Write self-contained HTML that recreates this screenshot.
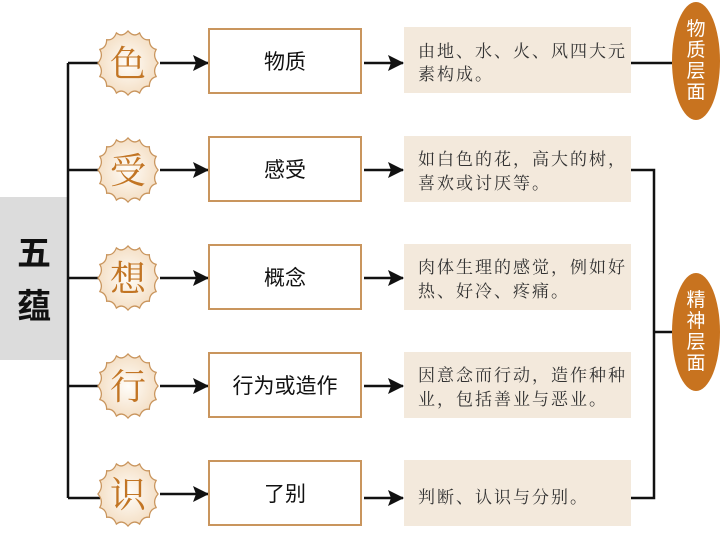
<!DOCTYPE html>
<html><head><meta charset="utf-8"><style>
body{margin:0;background:#fff;width:720px;height:533px;overflow:hidden}
svg text{font-family:"Liberation Sans","Noto Sans CJK SC",sans-serif}
.s{font-family:"Liberation Serif","Noto Serif CJK SC",serif !important}
</style></head><body>
<svg width="720" height="533" viewBox="0 0 720 533" xmlns="http://www.w3.org/2000/svg">
<defs>
<radialGradient id="g" cx="50%" cy="50%" r="55%"><stop offset="0" stop-color="#fffdf9"/><stop offset="1" stop-color="#f3dcc0"/></radialGradient>
<marker id="a" markerWidth="16" markerHeight="16" refX="15" refY="8" orient="auto" markerUnits="userSpaceOnUse"><path d="M0,0 L16,8 L0,16 L3,8 Z" fill="#111"/></marker>
<symbol id="star" viewBox="-34 -34 68 68">
<path d="M0,-33 Q6,-26 12,-31 Q15,-23 22,-24 Q22,-16 29,-14 Q25,-7 31,0 Q25,7 29,14 Q22,16 22,24 Q15,23 12,31 Q6,26 0,33 Q-6,26 -12,31 Q-15,23 -22,24 Q-22,16 -29,14 Q-25,7 -31,0 Q-25,-7 -29,-14 Q-22,-16 -22,-24 Q-15,-23 -12,-31 Q-6,-26 0,-33 Z" fill="url(#g)" stroke="#c9955d" stroke-width="1.3"/>
</symbol>
</defs>
<rect x="0" y="197" width="68" height="163" fill="#dcdcdc"/>
<text x="34" y="265" font-size="34" font-weight="bold" text-anchor="middle" fill="#111">五</text>
<text x="34" y="318" font-size="34" font-weight="bold" text-anchor="middle" fill="#111">蕴</text>
<path d="M68,63 V498" stroke="#111" stroke-width="2.5" fill="none"/>
<g stroke="#111" stroke-width="2.5" fill="none">
<path d="M68,63 H100"/><path d="M68,170 H100"/><path d="M68,278 H100"/><path d="M68,386 H100"/><path d="M68,498 H100"/>
<path d="M160,63 H208" marker-end="url(#a)"/><path d="M160,170 H208" marker-end="url(#a)"/><path d="M160,278 H208" marker-end="url(#a)"/><path d="M160,386 H208" marker-end="url(#a)"/><path d="M160,494 H208" marker-end="url(#a)"/>
<path d="M364,63 H403" marker-end="url(#a)"/><path d="M364,170 H403" marker-end="url(#a)"/><path d="M364,278 H403" marker-end="url(#a)"/><path d="M364,386 H403" marker-end="url(#a)"/><path d="M364,498 H403" marker-end="url(#a)"/>
<path d="M631,63 H672"/>
<path d="M631,170 H654 V498 H631"/>
<path d="M654,332 H672"/>
</g>
<g fill="#fff" stroke="#c9955d" stroke-width="2">
<rect x="209" y="29" width="152" height="64"/><rect x="209" y="137" width="152" height="64"/><rect x="209" y="245" width="152" height="64"/><rect x="209" y="353" width="152" height="64"/><rect x="209" y="461" width="152" height="64"/>
</g>
<g font-size="21" text-anchor="middle" fill="#111">
<text x="285" y="69">物质</text><text x="285" y="177">感受</text><text x="285" y="285">概念</text><text x="285" y="393">行为或造作</text><text x="285" y="501">了别</text>
</g>
<g>
<use href="#star" x="95" y="30" width="66" height="66"/>
<use href="#star" x="95" y="137" width="66" height="66"/>
<use href="#star" x="95" y="245" width="66" height="66"/>
<use href="#star" x="95" y="353" width="66" height="66"/>
<use href="#star" x="95" y="461" width="66" height="66"/>
</g>
<g font-size="36" text-anchor="middle" fill="#c27524">
<text class="s" x="128" y="76">色</text><text class="s" x="128" y="183">受</text><text class="s" x="128" y="291">想</text><text class="s" x="128" y="399">行</text><text class="s" x="128" y="507">识</text>
</g>
<g fill="#f3e9dc">
<rect x="404" y="27" width="227" height="66"/><rect x="404" y="136" width="227" height="66"/><rect x="404" y="244" width="227" height="66"/><rect x="404" y="352" width="227" height="66"/><rect x="404" y="460" width="227" height="66"/>
</g>
<g font-size="17" fill="#333" letter-spacing="2">
<text class="s" x="418" y="57">由地、水、火、风四大元</text><text class="s" x="418" y="80">素构成。</text>
<text class="s" x="418" y="165">如白色的花，高大的树，</text><text class="s" x="418" y="189">喜欢或讨厌等。</text>
<text class="s" x="418" y="273">肉体生理的感觉，例如好</text><text class="s" x="418" y="297">热、好冷、疼痛。</text>
<text class="s" x="418" y="381">因意念而行动，造作种种</text><text class="s" x="418" y="405">业，包括善业与恶业。</text>
<text class="s" x="418" y="503">判断、认识与分别。</text>
</g>
<ellipse cx="696" cy="61" rx="24" ry="59" fill="#c8731f"/>
<ellipse cx="696" cy="332" rx="24" ry="59" fill="#c8731f"/>
<g font-size="19" fill="#fff" text-anchor="middle">
<text x="696" y="35">物</text><text x="696" y="56">质</text><text x="696" y="77">层</text><text x="696" y="98">面</text>
<text x="696" y="306">精</text><text x="696" y="327">神</text><text x="696" y="348">层</text><text x="696" y="369">面</text>
</g>
</svg>
</body></html>
